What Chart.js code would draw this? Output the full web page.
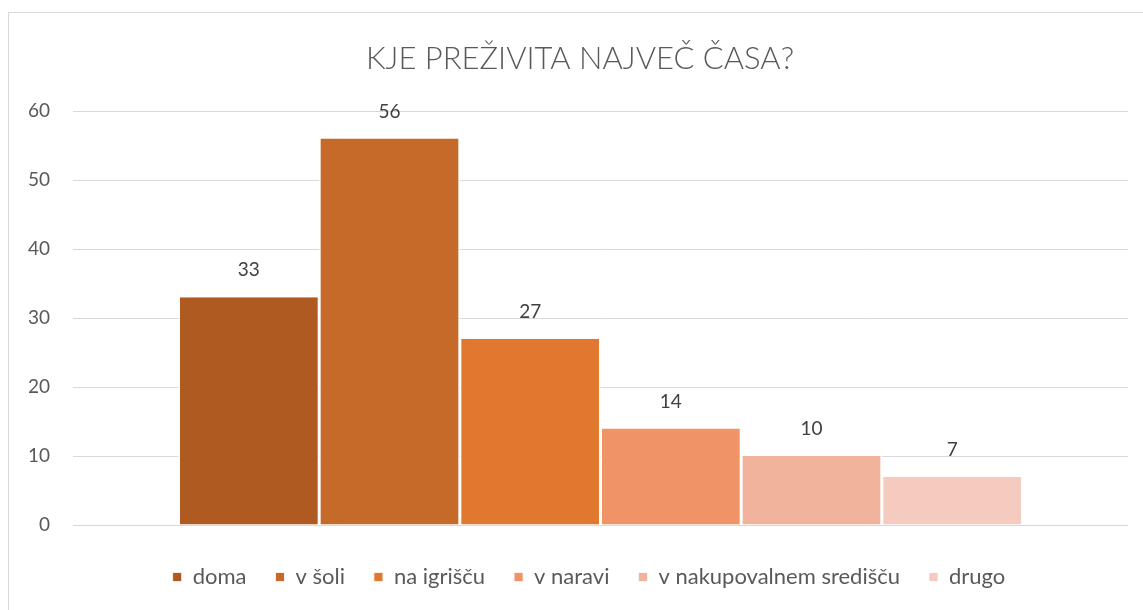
<!DOCTYPE html>
<html>
<head>
<meta charset="utf-8">
<script src="https://cdn.jsdelivr.net/npm/chart.js@4/dist/chart.umd.min.js"></script>
<style>
  html, body { margin: 0; padding: 0; background: #fff; overflow: hidden; }
  #frame { position: absolute; left: 8px; top: 12px; width: 1300px; height: 800px;
           border-left: 1px solid #d9d9d9; border-top: 1px solid #d9d9d9; }
  #wrap { position: absolute; left: 0; top: 0; width: 1143px; height: 610px; }
</style>
</head>
<body>
<div id="frame"></div>
<div id="wrap"><canvas id="c" width="1143" height="610"></canvas></div>
<script>
const titleText = 'KJE PREŽIVITA NAJVEČ ČASA?';
const categories = [''];
const seriesNames = ['doma', 'v šoli', 'na igrišču', 'v naravi', 'v nakupovalnem središču', 'drugo'];
const seriesValues = [33, 56, 27, 14, 10, 7];
const seriesColors = ['#AE5A21', '#C66A29', '#E07830', '#F09366', '#F2B39C', '#F6CBBF'];
const yTicks = [0, 10, 20, 30, 40, 50, 60];

const FONT = 'Lato, "Open Sans", sans-serif';

const dataLabels = {
  id: 'dataLabels',
  afterDatasetsDraw(chart) {
    const ctx = chart.ctx;
    ctx.save();
    ctx.font = '19px ' + FONT;
    ctx.fillStyle = '#404040';
    ctx.textAlign = 'center';
    ctx.textBaseline = 'middle';
    chart.data.datasets.forEach((ds, i) => {
      const meta = chart.getDatasetMeta(i);
      meta.data.forEach((bar, j) => {
        ctx.fillText(String(ds.data[j]), bar.x, bar.y - 27);
      });
    });
    ctx.restore();
  }
};

// nudge title and legend horizontally to match the reference centring
const shiftBoxes = {
  id: 'shiftBoxes',
  afterLayout(chart) {
    if (chart.legend) { chart.legend.left += 25; chart.legend.right += 25; }
    if (chart.titleBlock) { chart.titleBlock.left += 16; chart.titleBlock.right += 16; }
  }
};

new Chart(document.getElementById('c'), {
  type: 'bar',
  data: {
    labels: categories,
    datasets: seriesNames.map((name, i) => ({
      label: name,
      data: [seriesValues[i]],
      backgroundColor: seriesColors[i],
      borderColor: '#ffffff',
      borderWidth: { left: 1.5, right: 1.5, top: 0, bottom: 0 },
      borderSkipped: false,
      categoryPercentage: 0.8,
      barPercentage: 1.0
    }))
  },
  options: {
    responsive: false,
    animation: false,
    devicePixelRatio: 1,
    layout: { padding: { left: 0, right: 15, top: 0, bottom: 12 } },
    plugins: {
      title: {
        display: true,
        text: titleText,
        color: '#595959',
        font: { family: FONT, size: 31, weight: '300' },
        padding: { top: 39.9, bottom: 33.9 }
      },
      legend: {
        position: 'bottom',
        labels: {
          boxWidth: 9,
          boxHeight: 9,
          padding: 29,
          color: '#595959',
          font: { family: FONT, size: 22 }
        }
      },
      tooltip: { enabled: false }
    },
    scales: {
      x: {
        ticks: { display: false },
        grid: { display: false },
        border: { display: false },
        afterFit(scale) { scale.height = 12; }
      },
      y: {
        min: yTicks[0],
        max: yTicks[yTicks.length - 1],
        afterBuildTicks(scale) { scale.ticks = yTicks.map(v => ({ value: v })); },
        ticks: {
          color: '#595959',
          padding: 23,
          font: { family: FONT, size: 19 }
        },
        grid: { color: '#d9d9d9', drawTicks: false, lineWidth: 1 },
        border: { display: false },
        afterFit(scale) { scale.width = 73; }
      }
    }
  },
  plugins: [dataLabels, shiftBoxes]
});
</script>
</body>
</html>
